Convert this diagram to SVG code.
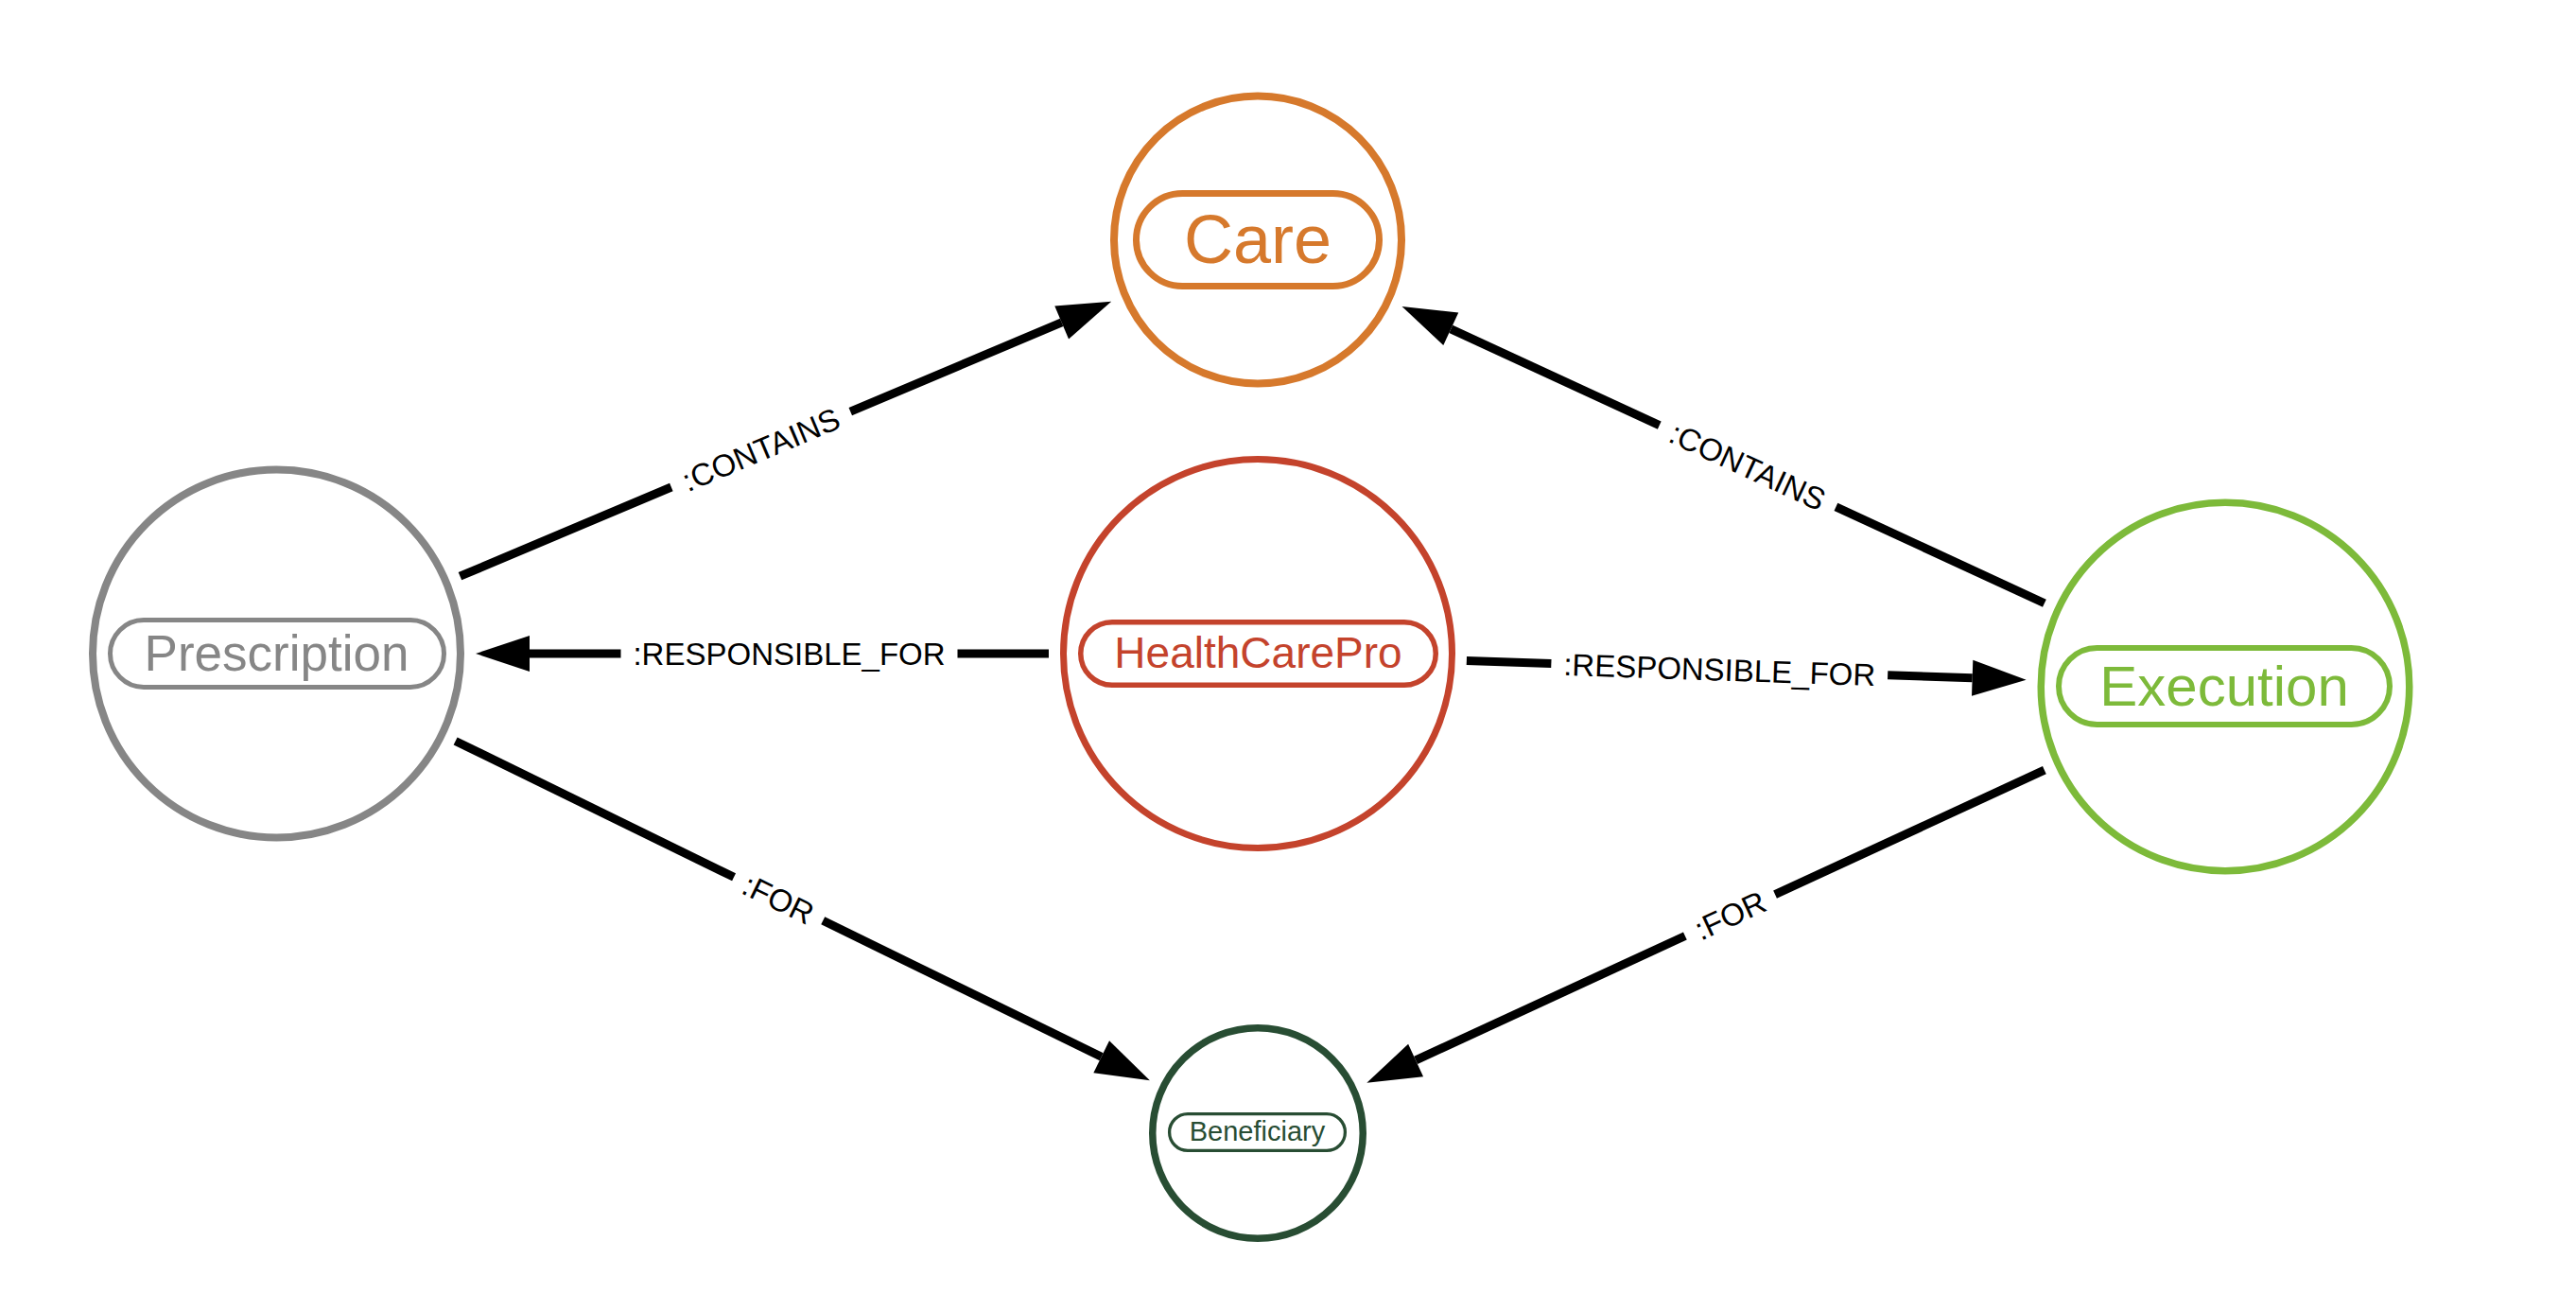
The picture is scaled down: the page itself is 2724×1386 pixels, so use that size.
<svg xmlns="http://www.w3.org/2000/svg" width="2724" height="1386" viewBox="0 0 2724 1386">
<style>
  .node circle { fill: #ffffff; }
  .pill { fill: #ffffff; }
  .nlabel { font-family: "Liberation Sans", Arial, Helvetica, sans-serif; text-anchor: middle; }
  .edge line { stroke: #000000; stroke-width: 9; fill: none; }
  .elabel { font-family: "Liberation Sans", Arial, Helvetica, sans-serif; font-size: 33px; fill: #000000; text-anchor: middle; }
</style>
<defs>
  <marker id="arrow" markerUnits="userSpaceOnUse" viewBox="0 -19 57 38" refX="0" refY="0" markerWidth="57" markerHeight="38" orient="auto" overflow="visible">
    <path d="M0,-19 L57,0 L0,19 Z" fill="#000000"/>
  </marker>
</defs>
<rect x="0" y="0" width="2724" height="1386" fill="#ffffff"/>

<g id="connectors">
  <g class="edge" id="e-presc-care">
    <line x1="486.46" y1="609.21" x2="709.85" y2="515.01"/>
    <line x1="899.29" y1="435.13" x2="1122.68" y2="340.93" marker-end="url(#arrow)"/>
    <text class="elabel" transform="translate(804.57,475.07) rotate(-22.86)" x="0" y="11.8">:CONTAINS</text>
  </g>
  <g class="edge" id="e-exec-care">
    <line x1="2161.90" y1="637.74" x2="1941.41" y2="535.90"/>
    <line x1="1754.75" y1="449.68" x2="1534.27" y2="347.84" marker-end="url(#arrow)"/>
    <text class="elabel" transform="translate(1848.08,492.79) rotate(24.79)" x="0" y="11.8">:CONTAINS</text>
  </g>
  <g class="edge" id="e-hcp-presc">
    <line x1="1109" y1="691" x2="1012.5" y2="691"/>
    <line x1="656.5" y1="691" x2="560" y2="691" marker-end="url(#arrow)"/>
    <text class="elabel" transform="translate(834.5,691)" x="0" y="11.8">:RESPONSIBLE_FOR</text>
  </g>
  <g class="edge" id="e-hcp-exec">
    <line x1="1550.87" y1="698.56" x2="1640.36" y2="701.62"/>
    <line x1="1996.16" y1="713.80" x2="2085.65" y2="716.85" marker-end="url(#arrow)"/>
    <text class="elabel" transform="translate(1818.26,707.71) rotate(1.96)" x="0" y="11.8">:RESPONSIBLE_FOR</text>
  </g>
  <g class="edge" id="e-presc-ben">
    <line x1="481.63" y1="783.42" x2="776.08" y2="927.31"/>
    <line x1="870.24" y1="973.33" x2="1164.69" y2="1117.21" marker-end="url(#arrow)"/>
    <text class="elabel" transform="translate(823.16,950.32) rotate(26.04)" x="0" y="11.8">:FOR</text>
  </g>
  <g class="edge" id="e-exec-ben">
    <line x1="2161.86" y1="814.19" x2="1877.05" y2="945.60"/>
    <line x1="1781.89" y1="989.50" x2="1497.08" y2="1120.91" marker-end="url(#arrow)"/>
    <text class="elabel" transform="translate(1829.47,967.55) rotate(-24.78)" x="0" y="11.8">:FOR</text>
  </g>
</g>

<g id="node-care" class="node">
  <circle cx="1330" cy="253.5" r="152" stroke="#D6792C" stroke-width="8"/>
  <rect class="pill" x="1201.5" y="204.5" width="257" height="98" rx="49" ry="49" stroke="#D6792C" stroke-width="7"/>
  <text class="nlabel" x="1330" y="277.5" font-size="72" fill="#D6792C">Care</text>
</g>

<g id="node-prescription" class="node">
  <circle cx="292.5" cy="691" r="194.5" stroke="#868686" stroke-width="8"/>
  <rect class="pill" x="116.5" y="655.5" width="353" height="71" rx="35.5" ry="35.5" stroke="#868686" stroke-width="5"/>
  <text class="nlabel" x="292.5" y="708.5" font-size="53" fill="#868686">Prescription</text>
</g>

<g id="node-healthcarepro" class="node">
  <circle cx="1330" cy="691" r="205.5" stroke="#C4432C" stroke-width="7"/>
  <rect class="pill" x="1142.75" y="657.75" width="375.5" height="66.5" rx="33.25" ry="33.25" stroke="#C4432C" stroke-width="5.5"/>
  <text class="nlabel" x="1330.5" y="705.5" font-size="46" fill="#C4432C">HealthCarePro</text>
</g>

<g id="node-execution" class="node">
  <circle cx="2353" cy="726" r="194.75" stroke="#7DBA3A" stroke-width="7.5"/>
  <rect class="pill" x="2177" y="685" width="350" height="81" rx="40.5" ry="40.5" stroke="#7DBA3A" stroke-width="6"/>
  <text class="nlabel" x="2352" y="745.5" font-size="60" fill="#7DBA3A">Execution</text>
</g>

<g id="node-beneficiary" class="node">
  <circle cx="1330" cy="1198" r="111.25" stroke="#284D33" stroke-width="7.5"/>
  <rect class="pill" x="1236.6" y="1177.6" width="185.8" height="38.8" rx="19.4" ry="19.4" stroke="#284D33" stroke-width="3.3"/>
  <text class="nlabel" x="1329.5" y="1206" font-size="29" fill="#284D33">Beneficiary</text>
</g>
</svg>
